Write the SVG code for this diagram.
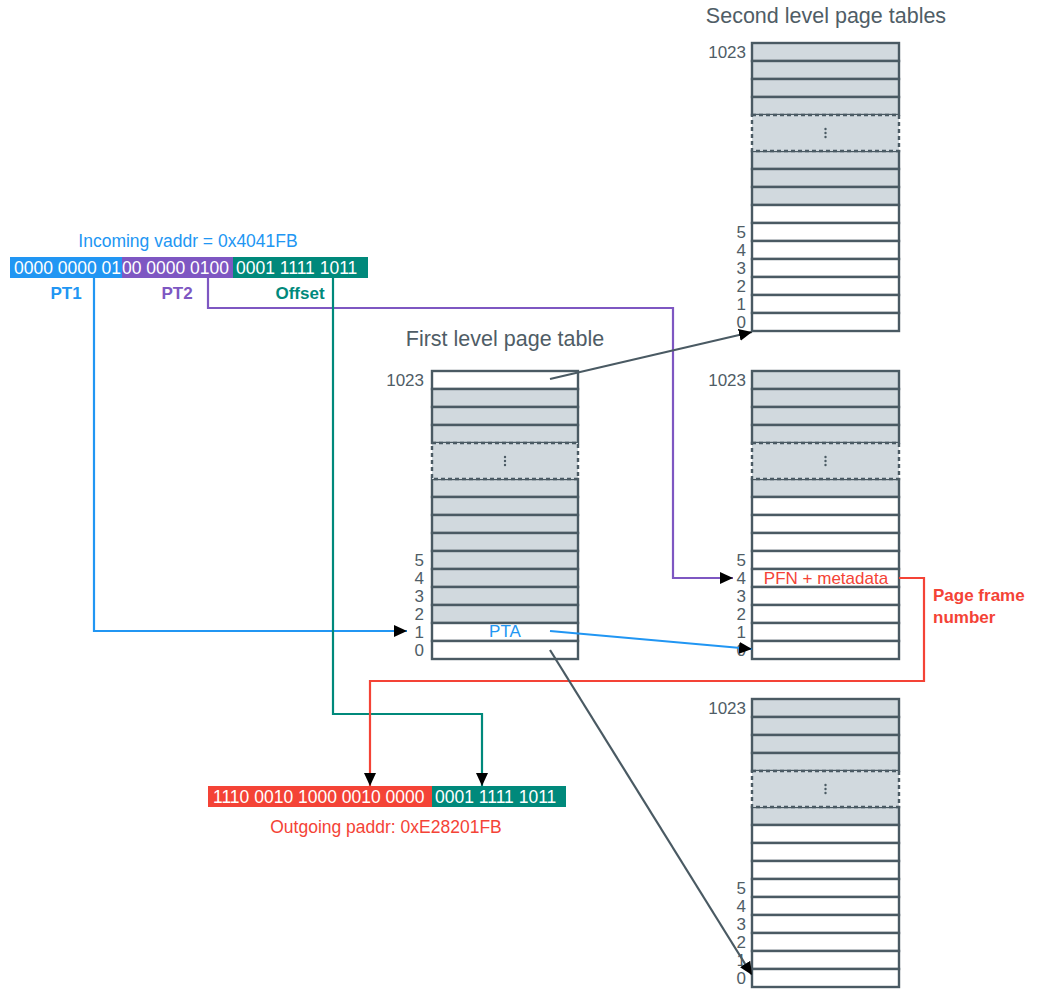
<svg xmlns="http://www.w3.org/2000/svg" width="1038" height="999" viewBox="0 0 1038 999">
  <defs>
    <style>
      text { font-family: "Liberation Sans", Arial, sans-serif; }
      .title { font-size: 21.5px; fill: #4f5d66; text-anchor: middle; }
      .idx { font-size: 17px; fill: #4f5d66; text-anchor: end; dominant-baseline: central; }
      .row { stroke: #4a5a63; stroke-width: 2.4; }
      .g { fill: #d1d9de; }
      .w { fill: #ffffff; }
      .dot { fill: #d1d9de; stroke: #4a5a63; stroke-width: 2.4; stroke-dasharray: 4 3; }
      .ell { fill: #4a5a63; }
      .bits { font-size: 17.5px; fill: #ffffff; }
      .lbl { font-size: 17px; font-weight: bold; text-anchor: middle; }
      .wire { fill: none; stroke-width: 2.2; }
    </style>
    <marker id="ah" markerUnits="userSpaceOnUse" markerWidth="13" markerHeight="12" viewBox="0 0 13 12" refX="13" refY="6" orient="auto">
      <path d="M0,0 L13,6 L0,12 z" fill="#000"/>
    </marker>
    <g id="ellipsis">
      <circle cx="0" cy="-4" r="1.2" class="ell"/>
      <circle cx="0" cy="0" r="1.2" class="ell"/>
      <circle cx="0" cy="4" r="1.2" class="ell"/>
    </g>
  </defs>

  <rect width="1038" height="999" fill="#ffffff"/>

  <!-- Titles -->
  <text class="title" x="826" y="23">Second level page tables</text>
  <text class="title" x="505" y="346">First level page table</text>

  <!-- Incoming virtual address -->
  <g id="vaddr">
    <text x="188" y="247" font-size="17.5" fill="#2196f3" text-anchor="middle">Incoming vaddr = 0x4041FB</text>
    <rect x="10" y="257" width="112" height="21" fill="#2196f3"/>
    <rect x="122" y="257" width="111" height="21" fill="#7e57c2"/>
    <rect x="233" y="257" width="135" height="21" fill="#00897b"/>
    <text class="bits" x="14" y="274">0000 0000 01</text>
    <text class="bits" x="122" y="274">00 0000 0100</text>
    <text class="bits" x="236" y="274">0001 1111 1011</text>
    <text class="lbl" x="66" y="299" fill="#2196f3">PT1</text>
    <text class="lbl" x="177" y="299" fill="#7e57c2">PT2</text>
    <text class="lbl" x="300" y="299" fill="#00897b">Offset</text>
  </g>

  <!-- First level page table -->
  <g id="pt1" transform="translate(432,371)">
    <rect class="row w" x="0" y="0" width="146" height="18"/>
    <rect class="row g" x="0" y="18" width="146" height="18"/>
    <rect class="row g" x="0" y="36" width="146" height="18"/>
    <rect class="row g" x="0" y="54" width="146" height="18"/>
    <rect class="row g" x="0" y="108" width="146" height="18"/>
    <rect class="row g" x="0" y="126" width="146" height="18"/>
    <rect class="row g" x="0" y="144" width="146" height="18"/>
    <rect class="row g" x="0" y="162" width="146" height="18"/>
    <rect class="row g" x="0" y="180" width="146" height="18"/>
    <rect class="row g" x="0" y="198" width="146" height="18"/>
    <rect class="row g" x="0" y="216" width="146" height="18"/>
    <rect class="row g" x="0" y="234" width="146" height="18"/>
    <rect class="row w" x="0" y="252" width="146" height="18"/>
    <rect class="row w" x="0" y="270" width="146" height="18"/>
    <rect class="dot" x="0" y="72" width="146" height="36"/>
    <use href="#ellipsis" x="73" y="90"/>
    <text class="idx" x="-8" y="9">1023</text>
    <text class="idx" x="-8" y="189">5</text>
    <text class="idx" x="-8" y="207">4</text>
    <text class="idx" x="-8" y="225">3</text>
    <text class="idx" x="-8" y="243">2</text>
    <text class="idx" x="-8" y="261">1</text>
    <text class="idx" x="-8" y="279">0</text>
    <text x="73" y="266" font-size="17" fill="#2196f3" text-anchor="middle">PTA</text>
  </g>

  <!-- Second level page table A -->
  <g id="pt2a" transform="translate(752,43)">
    <rect class="row g" x="0" y="0" width="147" height="18"/>
    <rect class="row g" x="0" y="18" width="147" height="18"/>
    <rect class="row g" x="0" y="36" width="147" height="18"/>
    <rect class="row g" x="0" y="54" width="147" height="18"/>
    <rect class="row g" x="0" y="108" width="147" height="18"/>
    <rect class="row g" x="0" y="126" width="147" height="18"/>
    <rect class="row g" x="0" y="144" width="147" height="18"/>
    <rect class="row w" x="0" y="162" width="147" height="18"/>
    <rect class="row w" x="0" y="180" width="147" height="18"/>
    <rect class="row w" x="0" y="198" width="147" height="18"/>
    <rect class="row w" x="0" y="216" width="147" height="18"/>
    <rect class="row w" x="0" y="234" width="147" height="18"/>
    <rect class="row w" x="0" y="252" width="147" height="18"/>
    <rect class="row w" x="0" y="270" width="147" height="18"/>
    <rect class="dot" x="0" y="72" width="147" height="36"/>
    <use href="#ellipsis" x="73.5" y="90"/>
    <text class="idx" x="-6" y="9">1023</text>
    <text class="idx" x="-6" y="189">5</text>
    <text class="idx" x="-6" y="207">4</text>
    <text class="idx" x="-6" y="225">3</text>
    <text class="idx" x="-6" y="243">2</text>
    <text class="idx" x="-6" y="261">1</text>
    <text class="idx" x="-6" y="279">0</text>
  </g>

  <!-- Second level page table B -->
  <g id="pt2b" transform="translate(752,371)">
    <rect class="row g" x="0" y="0" width="147" height="18"/>
    <rect class="row g" x="0" y="18" width="147" height="18"/>
    <rect class="row g" x="0" y="36" width="147" height="18"/>
    <rect class="row g" x="0" y="54" width="147" height="18"/>
    <rect class="row g" x="0" y="108" width="147" height="18"/>
    <rect class="row w" x="0" y="126" width="147" height="18"/>
    <rect class="row w" x="0" y="144" width="147" height="18"/>
    <rect class="row w" x="0" y="162" width="147" height="18"/>
    <rect class="row w" x="0" y="180" width="147" height="18"/>
    <rect class="row w" x="0" y="198" width="147" height="18"/>
    <rect class="row w" x="0" y="216" width="147" height="18"/>
    <rect class="row w" x="0" y="234" width="147" height="18"/>
    <rect class="row w" x="0" y="252" width="147" height="18"/>
    <rect class="row w" x="0" y="270" width="147" height="18"/>
    <rect class="dot" x="0" y="72" width="147" height="36"/>
    <use href="#ellipsis" x="73.5" y="90"/>
    <text class="idx" x="-6" y="9">1023</text>
    <text class="idx" x="-6" y="189">5</text>
    <text class="idx" x="-6" y="207">4</text>
    <text class="idx" x="-6" y="225">3</text>
    <text class="idx" x="-6" y="243">2</text>
    <text class="idx" x="-6" y="261">1</text>
    <text class="idx" x="-6" y="279">0</text>
    <text x="74" y="213" font-size="17" fill="#f44336" text-anchor="middle">PFN + metadata</text>
  </g>

  <!-- Second level page table C -->
  <g id="pt2c" transform="translate(752,699)">
    <rect class="row g" x="0" y="0" width="147" height="18"/>
    <rect class="row g" x="0" y="18" width="147" height="18"/>
    <rect class="row g" x="0" y="36" width="147" height="18"/>
    <rect class="row g" x="0" y="54" width="147" height="18"/>
    <rect class="row g" x="0" y="108" width="147" height="18"/>
    <rect class="row w" x="0" y="126" width="147" height="18"/>
    <rect class="row w" x="0" y="144" width="147" height="18"/>
    <rect class="row w" x="0" y="162" width="147" height="18"/>
    <rect class="row w" x="0" y="180" width="147" height="18"/>
    <rect class="row w" x="0" y="198" width="147" height="18"/>
    <rect class="row w" x="0" y="216" width="147" height="18"/>
    <rect class="row w" x="0" y="234" width="147" height="18"/>
    <rect class="row w" x="0" y="252" width="147" height="18"/>
    <rect class="row w" x="0" y="270" width="147" height="18"/>
    <rect class="dot" x="0" y="72" width="147" height="36"/>
    <use href="#ellipsis" x="73.5" y="90"/>
    <text class="idx" x="-6" y="9">1023</text>
    <text class="idx" x="-6" y="189">5</text>
    <text class="idx" x="-6" y="207">4</text>
    <text class="idx" x="-6" y="225">3</text>
    <text class="idx" x="-6" y="243">2</text>
    <text class="idx" x="-6" y="261">1</text>
    <text class="idx" x="-6" y="279">0</text>
  </g>

  <!-- Outgoing physical address -->
  <g id="paddr">
    <rect x="208" y="786" width="224" height="21" fill="#f44336"/>
    <rect x="432" y="786" width="134" height="21" fill="#00897b"/>
    <text class="bits" x="213" y="803">1110 0010 1000 0010 0000</text>
    <text class="bits" x="435" y="803">0001 1111 1011</text>
    <text x="386" y="833" font-size="17.5" fill="#f44336" text-anchor="middle">Outgoing paddr: 0xE28201FB</text>
  </g>

  <g id="pfn-label">
    <text x="933" y="601" font-size="17" font-weight="bold" fill="#f44336">Page frame</text>
    <text x="933" y="623" font-size="17" font-weight="bold" fill="#f44336">number</text>
  </g>

  <!-- Connectors -->
  <g id="connectors">
    <path class="wire" stroke="#2196f3" d="M94,278 V631 H407" marker-end="url(#ah)"/>
    <path class="wire" stroke="#7e57c2" d="M208,278 V308 H673 V578 H733" marker-end="url(#ah)"/>
    <path class="wire" stroke="#00897b" d="M333,278 V714 H482 V786" marker-end="url(#ah)"/>
    <path class="wire" stroke="#f44336" d="M899,578 H924 V681 H370 V786" marker-end="url(#ah)"/>
    <path class="wire" stroke="#2196f3" stroke-width="3" d="M550,631 L752,649" marker-end="url(#ah)"/>
    <path class="wire" stroke="#4a5a63" d="M550,379 L752,332" marker-end="url(#ah)"/>
    <path class="wire" stroke="#4a5a63" d="M550,650 L752,975" marker-end="url(#ah)"/>
  </g>
</svg>
